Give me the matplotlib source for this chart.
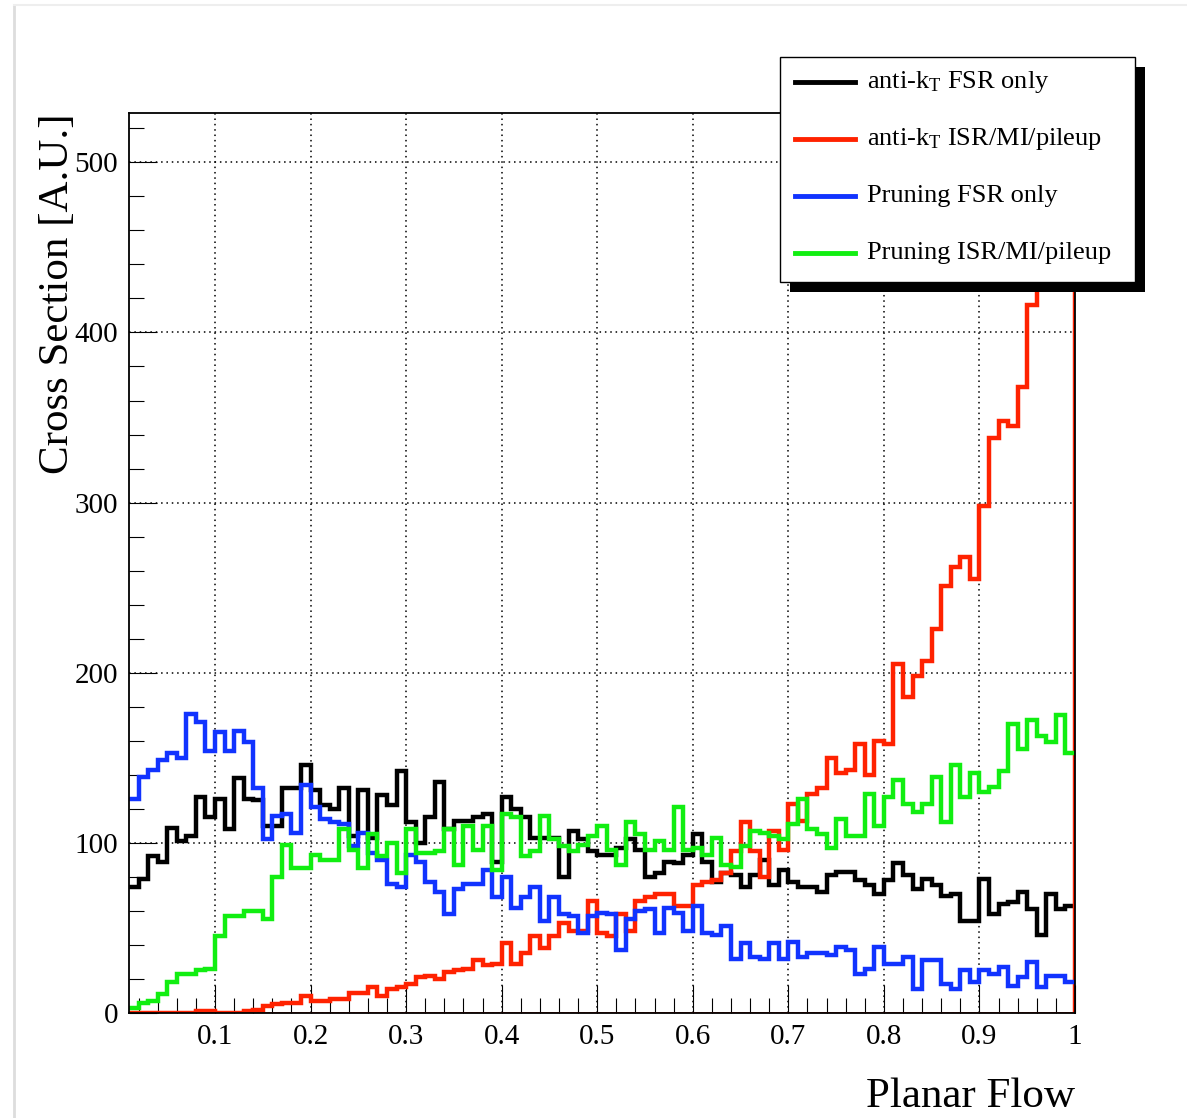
import matplotlib
matplotlib.use("Agg")
import matplotlib.pyplot as plt
import numpy as np
from matplotlib.lines import Line2D
from matplotlib.patches import Rectangle
from matplotlib.ticker import MultipleLocator, FuncFormatter

# --- data: 99 bins of width 0.01 from 0.01 to 1.00 ---
bin_lo, bin_w, n_bins = 0.01, 0.01, 99

antikt_fsr = [74, 79, 92, 89, 109, 101, 104, 127, 115, 126, 108, 138, 126, 125, 110, 110, 132, 132, 146, 131,
              122, 120, 132, 104, 131, 103, 128, 122, 142, 112, 100, 115, 136, 108, 113, 113, 115, 117, 89, 127,
              120, 115, 103, 103, 103, 80, 107, 102, 95, 93, 93, 97, 102, 96, 80, 82, 89, 88, 93, 105,
              89, 77, 82, 81, 74, 81, 90, 75, 84, 77, 74, 74, 71, 81, 83, 83, 78, 75, 70, 78,
              88, 81, 73, 79, 75, 69, 70, 54, 54, 79, 58, 64, 65, 71, 61, 46, 70, 61, 63]
antikt_isr = [0, 0, 0, 0, 0, 0, 0, 1, 1, 0, 0, 0, 1, 2, 4, 5, 6, 6, 10, 7,
              7, 8, 8, 12, 12, 15, 10, 14, 15, 17, 21, 22, 20, 24, 25, 26, 31, 28, 29, 41,
              29, 35, 45, 38, 45, 53, 48, 48, 66, 47, 45, 58, 48, 66, 68, 70, 70, 63, 63, 75,
              77, 78, 82, 95, 112, 95, 80, 107, 96, 123, 113, 129, 132, 150, 141, 143, 158, 140, 160, 158,
              205, 186, 198, 207, 226, 251, 262, 268, 255, 298, 338, 348, 345, 368, 416, 445, 470, 500, 560]
pruning_fsr = [126, 139, 143, 149, 153, 150, 176, 171, 154, 165, 154, 166, 159, 132, 102, 116, 117, 106, 134, 121,
               114, 112, 111, 98, 106, 94, 90, 76, 74, 93, 89, 77, 71, 58, 73, 76, 76, 84, 68, 80,
               62, 68, 74, 54, 68, 58, 57, 47, 57, 59, 58, 37, 55, 60, 61, 47, 62, 59, 48, 63,
               47, 46, 51, 32, 41, 33, 32, 41, 32, 42, 33, 35, 35, 34, 39, 37, 23, 26, 39, 29,
               29, 33, 14, 31, 31, 17, 14, 25, 18, 25, 23, 27, 16, 21, 30, 15, 22, 22, 18]
pruning_isr = [3, 6, 7, 11, 18, 23, 23, 25, 26, 45, 57, 57, 60, 60, 55, 80, 99, 85, 85, 93,
               90, 90, 108, 96, 85, 105, 92, 100, 82, 108, 94, 94, 95, 108, 87, 110, 96, 110, 84, 117,
               115, 92, 95, 116, 102, 98, 95, 99, 104, 110, 96, 87, 112, 105, 96, 101, 96, 121, 96, 97,
               93, 103, 87, 86, 98, 107, 106, 104, 102, 111, 126, 108, 105, 97, 114, 104, 104, 129, 110, 127,
               137, 123, 118, 123, 139, 112, 146, 127, 141, 130, 133, 142, 170, 155, 172, 163, 159, 175, 153]

labels = ["anti-k$_{\\mathregular{T}}$ FSR only", "anti-k$_{\\mathregular{T}}$ ISR/MI/pileup",
          "Pruning FSR only", "Pruning ISR/MI/pileup"]
colors = ["#000000", "#ff2200", "#1133ff", "#11ee11"]

plt.rcParams["font.family"] = ["Liberation Serif", "DejaVu Serif"]
plt.rcParams["mathtext.fontset"] = "custom"
plt.rcParams["mathtext.rm"] = "Liberation Serif"
plt.rcParams["mathtext.it"] = "Liberation Serif:italic"

W, H = 1187, 1118
fig = plt.figure(figsize=(W / 100, H / 100), dpi=100)
ax = fig.add_axes([129 / W, 1 - 1013 / H, (1075 - 129) / W, (1013 - 113) / H])

edges = bin_lo + bin_w * np.arange(n_bins + 1)
series = [antikt_fsr, antikt_isr, pruning_fsr, pruning_isr]
for vals, col in zip(series, colors):
    base = 0 if col == "#ff2200" else None
    ax.stairs(vals, edges, baseline=base, color=col, lw=3.2, zorder=2.3)
ax.axhline(0, color="#ff2200", lw=2.0, zorder=2.2)

ax.set_xlim(0.01, 1.0)
ax.set_ylim(0, 529)
ax.xaxis.set_major_locator(MultipleLocator(0.1))
ax.xaxis.set_minor_locator(MultipleLocator(0.02))
ax.yaxis.set_major_locator(MultipleLocator(100))
ax.yaxis.set_minor_locator(MultipleLocator(20))
ax.xaxis.set_major_formatter(FuncFormatter(lambda v, p: "1" if abs(v - 1) < 1e-6 else f"{v:.1f}"))
ax.tick_params(which="both", direction="in", top=False, right=False, width=0.8, labelsize=21)
ax.tick_params(which="major", length=20)
ax.tick_params(which="minor", length=10.5)
ax.tick_params(axis="y", pad=8)
ax.tick_params(axis="x", pad=8)
ax.grid(True, which="major", color="black", lw=1.1, linestyle=(0, (1, 2.5)))
for s in ax.spines.values():
    s.set_linewidth(1.3)
    s.set_zorder(3)

ax.set_xlabel("Planar Flow", fontsize=31, loc="right", labelpad=20)
ax.set_ylabel("Cross Section [A.U.]", fontsize=31, loc="top", labelpad=-2)

# ROOT-style legend box with solid shadow
def fx(px):
    return px / W

def fy(py):
    return 1 - py / H

fig.add_artist(Rectangle((fx(790), fy(292)), fx(1145) - fx(790), fy(67) - fy(292),
                         transform=fig.transFigure, facecolor="black", edgecolor="none", zorder=10))
fig.add_artist(Rectangle((fx(780), fy(282)), fx(1135) - fx(780), fy(57) - fy(282),
                         transform=fig.transFigure, facecolor="white", edgecolor="black", lw=1, zorder=11))
for i, (lab, col) in enumerate(zip(labels, colors)):
    yc = 82 + 57 * i
    fig.add_artist(Line2D([fx(795), fx(855)], [fy(yc), fy(yc)], transform=fig.transFigure,
                          color=col, lw=3.5, zorder=12))
    fig.text(fx(867), fy(yc), lab, fontsize=19, va="center", ha="left", zorder=12)

# faint canvas border
fig.add_artist(Line2D([fx(14), fx(14)], [fy(5), 0], transform=fig.transFigure, color="#dddddd", lw=2))
fig.add_artist(Line2D([fx(14), 1], [fy(5), fy(5)], transform=fig.transFigure, color="#eeeeee", lw=1.5))

fig.savefig("out.png", dpi=100)
